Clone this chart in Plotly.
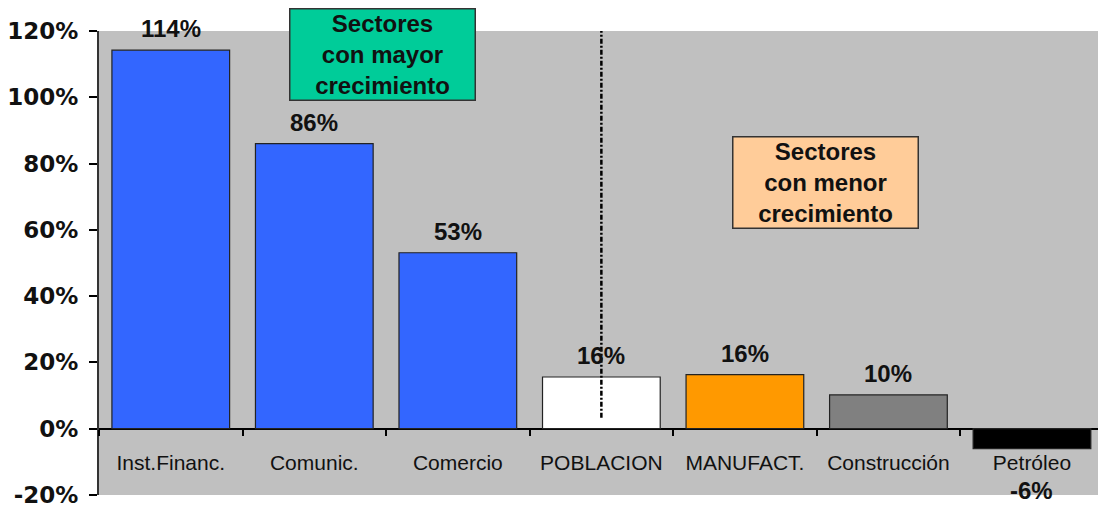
import plotly.graph_objects as go

SECTORS = ["Inst.Financ.", "Comunic.", "Comercio", "POBLACION", "MANUFACT.", "Construcción", "Petróleo"]
GROWTH = [114.2, 86.0, 53.1, 15.6, 16.3, 10.2, -6.0]
BAR_COLORS = ["#3366FF", "#3366FF", "#3366FF", "#FFFFFF", "#FF9900", "#808080", "#000000"]
Y_TICKS = [-20, 0, 20, 40, 60, 80, 100, 120]

PLOT_BG_COLOR = "#C0C0C0"
FG_COLOR = "#111111"
LABEL_FONT = "Liberation Sans, Arial, sans-serif"


def _value_labels(fig: go.Figure) -> go.Figure:
    """Bold percentage labels above each bar (below the axis label for negatives)."""
    for name, value in zip(SECTORS, GROWTH):
        if value >= 0:
            y, anchor, shift = value, "bottom", 6
        else:
            y, anchor, shift = Y_TICKS[0], "middle", 5
        fig.add_annotation(
            x=name, y=y, yanchor=anchor, yshift=shift,
            text=f"{round(value)}%", showarrow=False,
            font=dict(family=LABEL_FONT, size=24, color=FG_COLOR, weight="bold"),
        )
    return fig


def _sector_box(fig: go.Figure, text: str, x: float, y: float, color: str) -> go.Figure:
    fig.add_annotation(
        x=x, y=y, xref="x", yref="y",
        text=text, showarrow=False,
        width=184, height=90, borderpad=0,
        bgcolor=color, bordercolor="#333333", borderwidth=1.5,
        font=dict(family=LABEL_FONT, size=24, color=FG_COLOR, weight="bold"),
    )
    return fig


fig = go.Figure(
    go.Bar(
        x=SECTORS,
        y=GROWTH,
        width=0.82,
        marker=dict(color=BAR_COLORS, line=dict(color="#222222", width=1.2)),
        cliponaxis=False,
        hoverinfo="skip",
    )
)

fig = _value_labels(fig)
fig = _sector_box(fig, "Sectores<br>con mayor<br>crecimiento", 1.475, 112.9, "#00CC99")
fig = _sector_box(fig, "Sectores<br>con menor<br>crecimiento", 4.558, 74.3, "#FFCC99")

# divider between the two groups of sectors
fig.add_shape(
    type="line", xref="x", yref="y",
    x0=3, x1=3, y0=3.3, y1=120.3,
    line=dict(color="#000000", width=2.5, dash="5px,2px,2px,2px"),
    layer="above",
)

fig.update_layout(
    width=1098,
    height=510,
    margin=dict(l=99, r=0, t=31, b=15),
    plot_bgcolor=PLOT_BG_COLOR,
    paper_bgcolor="#FFFFFF",
    showlegend=False,
)

fig.update_yaxes(
    range=[-20, 120],
    tickvals=Y_TICKS,
    ticktext=[f"{v}%" for v in Y_TICKS],
    tickfont=dict(family="DejaVu Sans, sans-serif", size=23, color=FG_COLOR, weight="bold"),
    ticks="outside",
    ticklen=8,
    tickcolor="#000000",
    tickwidth=1.5,
    ticklabelstandoff=6,
    showline=True,
    linecolor="#333333",
    linewidth=2,
    showgrid=False,
    zeroline=True,
    zerolinecolor="#000000",
    zerolinewidth=2,
)

fig.update_xaxes(
    type="category",
    range=[-0.5, 6.46],
    anchor="free",
    position=20 / 140,
    tickson="boundaries",
    ticks="outside",
    ticklen=6,
    tickcolor="#000000",
    tickwidth=1.5,
    ticklabelstandoff=19,
    tickfont=dict(family=LABEL_FONT, size=21, color=FG_COLOR),
    showline=False,
    showgrid=False,
    zeroline=False,
)

# page body margin would otherwise push the figure 8px off the window
fig.write_html(
    "out.html",
    config={"displayModeBar": False},
    post_script="document.body.style.margin='0';",
)
